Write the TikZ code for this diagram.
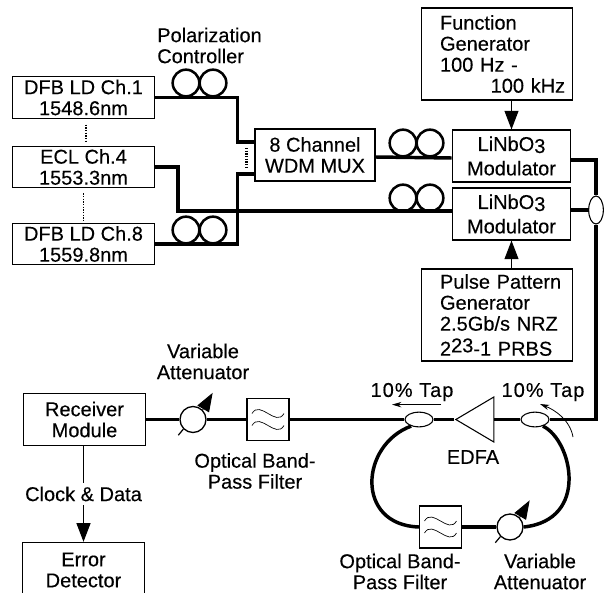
\documentclass[tikz,border=0pt]{standalone}
\usepackage{fontspec}
\setmainfont{Liberation Sans}[FakeBold=0.25]
\usetikzlibrary{calc,arrows.meta,shapes.geometric}
\tikzset{txt/.style={font=\fontsize{15}{15.75}\selectfont,inner sep=0pt,align=center},
	bx/.style={txt,draw,line width=.8pt},
	fib/.style={line width=2.6pt},
	pc/.style={draw,circle,line width=1.9pt,minimum size=20pt,inner sep=0pt},
	atn/.style={draw,circle,line width=1pt,minimum size=19.5pt,inner sep=0pt,fill=white},
	cp/.style={draw,ellipse,line width=.8pt,inner sep=0pt,fill=white},
	fl/.style={draw,line width=.8pt,minimum width=31.5pt,minimum height=31.5pt,inner sep=0pt,fill=white},
	thn/.style={line width=.9pt},
	arr/.style={thn,-{Triangle[length=14pt,width=10.5pt]}},
	wdg/.style={line width=.7pt,-{Triangle[length=14pt,width=10pt]}}}
\newcommand{\wav}[1]{\draw[line width=.5pt] ($(#1)+(-16,-6)$) .. controls +(8,-14) and +(-8,14) .. +(32,0)
	($(#1)+(-16,6)$) .. controls +(8,-14) and +(-8,14) .. +(32,0);}
\begin{document}
\begin{tikzpicture}[x=.75pt,y=-.75pt]
	\useasboundingbox (0,0) rectangle (606,592);
	\node[bx,minimum width=107pt,minimum height=31pt] (DA) at (83.5,97.5) {DFB LD Ch.1\\1548.6nm};
	\node[bx,minimum width=107pt,minimum height=31pt] (DB) at (83.5,167) {ECL Ch.4\\1553.3nm};
	\node[bx,minimum width=107pt,minimum height=31pt] (DC) at (83.5,244) {DFB LD Ch.8\\1559.8nm};
	\node[bx,minimum width=90pt,minimum height=39pt] (MX) at (315,155) {8 Channel\\WDM MUX};
	\node[bx,minimum width=89pt,minimum height=39pt] (MA) at (511.5,156) {LiNbO\raisebox{-1.5pt}{3}\\[2.5pt]Modulator};
	\node[bx,minimum width=89pt,minimum height=39pt] (MB) at (511.5,214) {LiNbO\raisebox{-1.5pt}{3}\\[2.5pt]Modulator};
	\node[bx,align=left,text width=85.5pt,inner xsep=14pt,minimum height=69pt] (FG) at (497,54) {Function\\Generator\\\mbox{100 Hz -}\\\hspace*{38pt}\mbox{100 kHz}};
	\node[bx,align=left,text width=85.5pt,inner xsep=14pt,minimum height=69pt] (PG) at (497,315) {\mbox{Pulse Pattern}\\Generator\\\mbox{2.5Gb/s NRZ}\\[3pt]\mbox{2\raisebox{2.5pt}{23}-1 PRBS}};
	\node[bx,minimum width=91pt,minimum height=39pt] (RX) at (84.5,419.5) {Receiver\\Module};
	\node[bx,minimum width=91pt,minimum height=46pt] (ER) at (83.5,573) {};
	\node[txt] (ET) at (83.5,570) {Error\\Detector};
	\node[pc] (PAa) at (186,83) {};
	\node[pc] (PAb) at (213,83) {};
	\node[pc] (PBa) at (186,230) {};
	\node[pc] (PBb) at (213,230) {};
	\node[pc] (PCa) at (403,143) {};
	\node[pc] (PCb) at (430,143) {};
	\node[pc] (PDa) at (403,198) {};
	\node[pc] (PDb) at (430,198) {};
	\coordinate (MXa) at ($(MX.west)+(0,-13)$);
	\coordinate (MXb) at ($(MX.west)+(0,19)$);
	\coordinate (KA) at (178,211);
	\coordinate (MAa) at ($(MA.east)+(0,4)$);
	\coordinate (MBa) at ($(MB.west)+(0,-3)$);
	\node[cp,minimum width=11pt,minimum height=21pt] (CP) at (596,210) {};
	\node[cp,minimum width=21pt,minimum height=11pt] (TL) at (419,419.5) {};
	\node[cp,minimum width=21pt,minimum height=11pt] (TR) at (535,419.5) {};
	\node[atn] (ATA) at (193,419.5) {};
	\node[atn] (ATB) at (510,527) {};
	\node[fl] (FA) at (268,419.5) {};
	\node[fl] (FB) at (440.5,527) {};
	\wav{FA}
	\wav{FB}
	\node[draw,isosceles triangle,isosceles triangle stretches,shape border rotate=180,minimum width=33.75pt,minimum height=28.5pt,inner sep=0pt,line width=.8pt] (ED) at (481,419.5) {};
	\draw[fib] (DA.east) -| ($(MXa)+(-17,0)$) -- (MXa);
	\draw[fib] (DC.east) -| ($(MXb)+(-17,0)$) -- (MXb);
	\draw[fib] (DB.east) -| (KA) -- (KA -| MBa);
	\draw[fib] ($(MX.east)+(0,2)$) -- ($(MA.west)+(0,2)$);
	\draw[fib] (MAa) -| (CP.north);
	\draw[fib] (MB.east |- CP.west) -- (CP.west);
	\draw[fib] (CP.south) |- (TR.east);
	\draw[fib] (TR.west) -- (ED.east);
	\draw[fib] (ED.apex) -- (TL.east);
	\draw[fib] (TL.west) -- (FA.east);
	\draw[fib] (FA.west) -- (ATA.east);
	\draw[fib] (ATA.west) -- (RX.east);
	\draw[fib] (TR.-40) .. controls (572,440) and (590,520) .. (ATB.east);
	\draw[fib] (TL.220) .. controls (360,445) and (355,525) .. (FB.west);
	\draw[fib] (FB.east) -- (ATB.west);
	\draw[line width=2pt,dash pattern=on 1pt off 1pt] ($(DA.south)+(2.5,6)$) -- ($(DB.north)+(2.5,-4)$);
	\draw[line width=1pt,dash pattern=on 1pt off 1pt] ($(DB.south)+(0,5)$) -- ($(DC.north)+(0,-2)$);
	\draw[line width=2pt,dash pattern=on 1pt off 1pt] ($(MXa)+(-8,6)$) -- ($(MXb)+(-8,-7)$);
	\draw[wdg] (ATA.45) -- ++(10,-17);
	\draw[thn] (ATA.-135) -- ++(-5,6);
	\draw[wdg] (ATB.45) -- ++(10,-17);
	\draw[thn] (ATB.-135) -- ++(-5,6);
	\draw[arr] (FG.south -| MA.north) -- (MA.north);
	\draw[arr] (PG.north -| MB.south) -- (MB.south);
	\draw[arr] (RX.south -| ER.north) -- node[txt,fill=white,inner ysep=3pt] (CD) {Clock \& Data} (ER.north);
	\node[txt,align=left,anchor=west] (PL) at (157,45.5) {Polarization\\Controller};
	\node[txt,font=\fontsize{15}{15.75}\selectfont\addfontfeature{LetterSpace=5}] (TA) at (412,392) {10\% Tap};
	\node[txt,font=\fontsize{15}{15.75}\selectfont\addfontfeature{LetterSpace=5}] (TB) at (543,392) {10\% Tap};
	\node[txt] (EL) at (473,457) {EDFA};
	\node[txt] (VA) at (203,361.5) {Variable\\Attenuator};
	\node[txt] (VB) at (540,571.5) {Variable\\Attenuator};
	\node[txt] (OA) at (255,471) {Optical Band-\\Pass Filter};
	\node[txt] (OB) at (400,571.5) {Optical Band-\\Pass Filter};
	\coordinate (LA) at ($(TL.north)+(22,-7)$);
	\coordinate (LB) at ($(TL.north)+(-27,-7)$);
	\coordinate (LC) at (573,437);
	\coordinate (LD) at (540,404);
	\draw[line width=.6pt,-{Stealth[length=7pt,width=4pt]}] (LA) -- (LB);
	\draw[line width=.6pt,-{Stealth[length=7pt,width=4pt]}] (LC) .. controls (570,420) and (555,410) .. (LD);
\end{tikzpicture}
\end{document}
